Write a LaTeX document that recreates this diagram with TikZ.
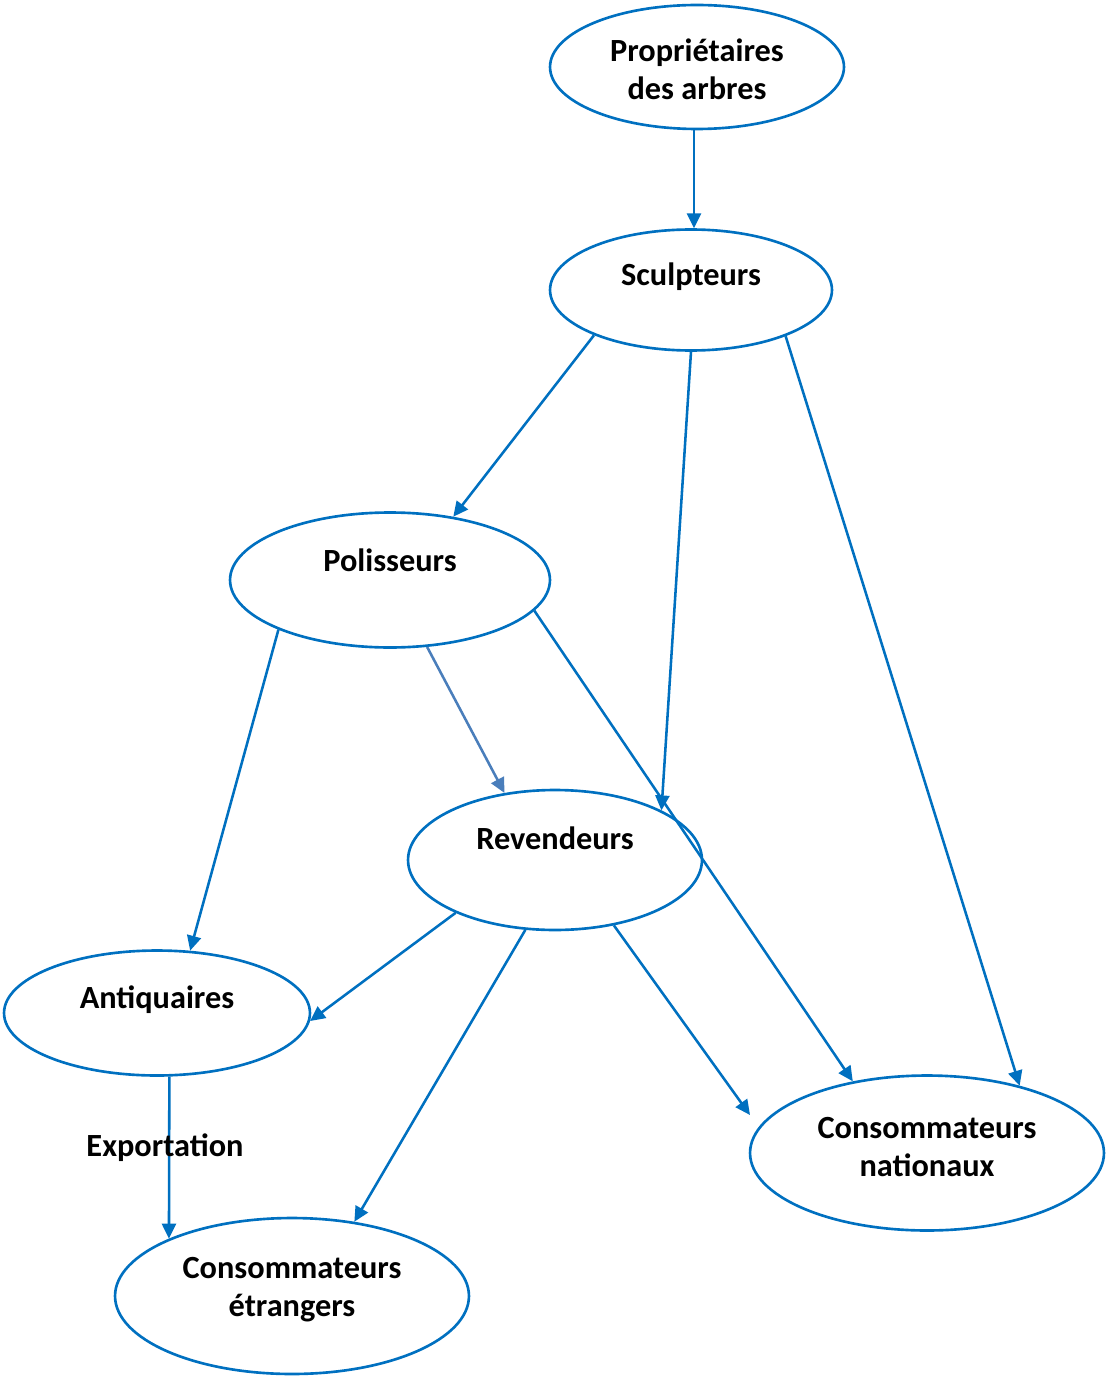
\documentclass[tikz,border=0pt]{standalone}
\usepackage{fontspec}
\setmainfont{Carlito}
\usepackage{tikz}
\usetikzlibrary{shapes.geometric, arrows.meta}
\definecolor{lineblue}{HTML}{0070C0}
\definecolor{paleblue}{HTML}{4A7EBB}

\begin{document}
\begin{tikzpicture}[
  x=0.02cm, y=-0.02cm,
  bubble/.style={ellipse, draw=lineblue, line width=1.5pt, inner sep=0pt},
  lbl/.style={align=center, inner sep=0pt,
             font=\fontsize{18.4}{21.6}\selectfont\bfseries},
  arrow/.style={-{Triangle[length=8.5pt, width=8pt]}, line width=1.45pt, draw=lineblue}
]
\useasboundingbox (0,0) rectangle (1106,1378);

% the actors
\node[bubble, minimum width=5.88cm, minimum height=2.48cm] (prop) at (697,67) {};
\node[bubble, minimum width=5.64cm, minimum height=2.42cm] (sculp) at (691,290) {};
\node[bubble, minimum width=6.40cm, minimum height=2.70cm] (pol) at (390,580) {};
\node[bubble, minimum width=5.88cm, minimum height=2.80cm] (rev) at (555,860) {};
\node[bubble, minimum width=6.12cm, minimum height=2.50cm] (antiq) at (157,1013) {};
\node[bubble, minimum width=7.08cm, minimum height=3.10cm] (natl) at (927,1153) {};
\node[bubble, minimum width=7.08cm, minimum height=3.12cm] (etr) at (292,1296) {};

\node[lbl] (propT) at ([yshift=-0.05cm]prop.center) {Propriétaires\\des arbres};
\node[lbl] (sculpT) at ([yshift=0.26cm]sculp.center) {Sculpteurs};
\node[lbl] (polT) at ([yshift=0.40cm]pol.center) {Polisseurs};
\node[lbl] (revT) at ([yshift=0.44cm]rev.center) {Revendeurs};
\node[lbl] (antiqT) at ([yshift=0.26cm]antiq.center) {Antiquaires};
\node[lbl] (natlT) at ([yshift=0.12cm]natl.center) {Consommateurs\\nationaux};
\node[lbl] (etrT) at ([yshift=0.12cm]etr.center) {Consommateurs\\étrangers};

\coordinate (natlW) at (750,1115);

% the flows
\draw[arrow] ([xshift=-0.06cm]prop.south) -- ([xshift=-0.06cm]prop.south |- sculp.north);
\draw[arrow] (sculp.205) -- (pol.45);
\draw[arrow] (sculp.south) -- (rev.25);
\draw[arrow] (sculp.334) -- (natl.36);
\draw[arrow] (pol.204) -- (antiq.62);
\draw[arrow, draw=paleblue] (pol.299) -- (rev.127);
\draw[arrow] (pol.348) -- (natl.136);
\draw[arrow] (rev.208) -- (antiq.357);
\draw[arrow] (rev.247) -- (etr.50);
\draw[arrow] (rev.312) -- (natlW);
\draw[arrow] (antiq.281) -- (etr.155);

\node[lbl] (export) at (165,1148) {Exportation};

\end{tikzpicture}
\end{document}
